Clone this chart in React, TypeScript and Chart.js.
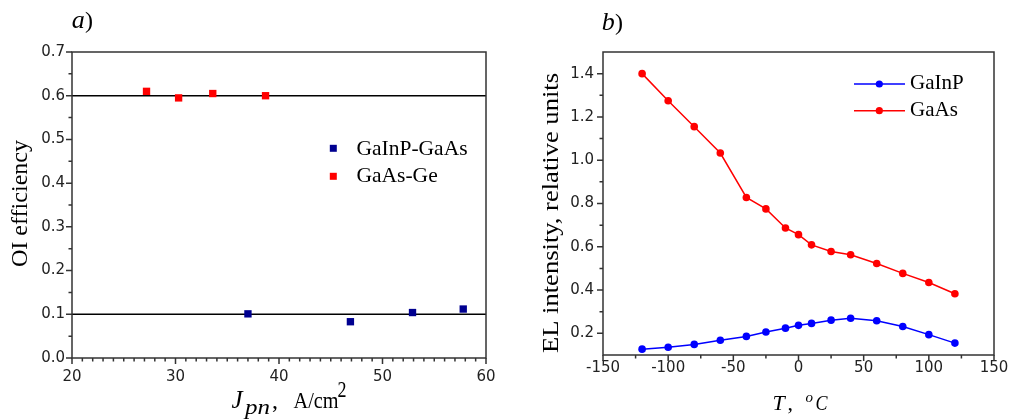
import React, { useEffect, useRef } from "react";
import { Chart, registerables } from "chart.js";

Chart.register(...registerables);

// ---------- Panel a) data ----------
const jpnGaInPGaAs = [37.0, 46.9, 52.9, 57.8];
const effGaInPGaAs = [0.101, 0.083, 0.104, 0.112];
const jpnGaAsGe = [27.2, 30.3, 33.6, 38.7];
const effGaAsGe = [0.61, 0.595, 0.605, 0.6];
const refLevels = [0.1, 0.6];
const leftXTicks = [20, 30, 40, 50, 60];
const leftYTicks = [0, 0.1, 0.2, 0.3, 0.4, 0.5, 0.6, 0.7];
const leftXMinor = [21, 22, 23, 24, 25, 26, 27, 28, 29, 31, 32, 33, 34, 35, 36, 37, 38, 39, 41, 42, 43, 44, 45, 46, 47, 48, 49, 51, 52, 53, 54, 55, 56, 57, 58, 59];
const leftYMinor = [0.05, 0.15, 0.25, 0.35, 0.45, 0.55, 0.65];
const leftLegend = ["GaInP-GaAs", "GaAs-Ge"];

// ---------- Panel b) data ----------
const temps = [-120, -100, -80, -60, -40, -25, -10, 0, 10, 25, 40, 60, 80, 100, 120];
const elGaInP = [0.127, 0.136, 0.149, 0.168, 0.186, 0.206, 0.224, 0.237, 0.246, 0.261, 0.27, 0.258, 0.232, 0.194, 0.155];
const elGaAs = [1.4, 1.275, 1.155, 1.033, 0.828, 0.775, 0.687, 0.656, 0.609, 0.578, 0.563, 0.523, 0.477, 0.435, 0.383];
const rightXTicks = [-150, -100, -50, 0, 50, 100, 150];
const rightYTicks = [0.2, 0.4, 0.6, 0.8, 1.0, 1.2, 1.4];
const rightXMinor = [-125, -75, -25, 25, 75, 125];
const rightYMinor = [0.3, 0.5, 0.7, 0.9, 1.1, 1.3];
const rightLegend = ["GaInP", "GaAs"];

const AXIS = "#333333";
const SERIF = "'Liberation Serif', 'Times New Roman', serif";
const SANS = "'DejaVu Sans', Verdana, sans-serif";
const NAVY = "#000090";
const RED = "#ff0000";
const BLUE = "#0000ff";

function run(ctx: CanvasRenderingContext2D, s: string, x: number, y: number, font: string, width?: number) {
  ctx.save();
  ctx.font = font;
  ctx.textAlign = "left";
  ctx.textBaseline = "alphabetic";
  ctx.fillStyle = "#000";
  ctx.translate(x, y);
  if (width) {
    const m = ctx.measureText(s).width;
    ctx.scale(width / m, 1);
  }
  ctx.fillText(s, 0, 0);
  ctx.restore();
}

function vtext(ctx: CanvasRenderingContext2D, s: string, bx: number, cy: number, font: string, len?: number) {
  ctx.save();
  ctx.font = font;
  ctx.textAlign = "center";
  ctx.textBaseline = "alphabetic";
  ctx.fillStyle = "#000";
  ctx.translate(bx, cy);
  ctx.rotate(-Math.PI / 2);
  if (len) {
    const m = ctx.measureText(s).width;
    ctx.scale(len / m, 1);
  }
  ctx.fillText(s, 0, 0);
  ctx.restore();
}

function drawFrame(chart: any, xMaj: number[], xMin: number[], yMaj: number[], yMin: number[]) {
  const { ctx, chartArea: a, scales } = chart;
  const x = scales.x;
  const y = scales.y;
  ctx.save();
  ctx.strokeStyle = AXIS;
  ctx.lineWidth = 1.5;
  ctx.beginPath();
  xMaj.forEach((v) => {
    const p = x.getPixelForValue(v);
    ctx.moveTo(p, a.bottom);
    ctx.lineTo(p, a.bottom + 6);
  });
  xMin.forEach((v) => {
    const p = x.getPixelForValue(v);
    ctx.moveTo(p, a.bottom);
    ctx.lineTo(p, a.bottom + 3.5);
  });
  yMaj.forEach((v) => {
    const p = y.getPixelForValue(v);
    ctx.moveTo(a.left, p);
    ctx.lineTo(a.left - 6, p);
  });
  yMin.forEach((v) => {
    const p = y.getPixelForValue(v);
    ctx.moveTo(a.left, p);
    ctx.lineTo(a.left - 3.5, p);
  });
  ctx.stroke();
  ctx.strokeRect(a.left, a.top, a.right - a.left, a.bottom - a.top);
  ctx.restore();
}

function fixedSize(size: number, horizontal: boolean) {
  return (scale: any) => {
    if (horizontal) scale.height = size;
    else scale.width = size;
    scale.paddingLeft = 0;
    scale.paddingRight = 0;
    scale.paddingTop = 0;
    scale.paddingBottom = 0;
  };
}

function setTicks(values: number[]) {
  return (scale: any) => {
    scale.ticks = values.map((v) => ({ value: v }));
  };
}

function LeftChart() {
  const ref = useRef<HTMLCanvasElement | null>(null);
  useEffect(() => {
    const canvas = ref.current!;
    const decor = {
      id: "decorA",
      afterDraw(chart: any) {
        const ctx = chart.ctx as CanvasRenderingContext2D;
        drawFrame(chart, leftXTicks, leftXMinor, leftYTicks, leftYMinor);
        // panel label
        run(ctx, "a", 71.7, 28.3, `italic 26px ${SERIF}`);
        run(ctx, ")", 85, 28.3, `24px ${SERIF}`);
        // y title
        vtext(ctx, "OI efficiency", 27, 203.5, `23px ${SERIF}`, 127);
        // x title
        run(ctx, "J", 231.5, 408, `italic 25px ${SERIF}`);
        run(ctx, "pn", 245, 414, `italic 22px ${SERIF}`, 25);
        run(ctx, ",", 272, 408, `24px ${SERIF}`);
        run(ctx, "A/cm", 293.5, 408, `24px ${SERIF}`, 45);
        run(ctx, "2", 337.5, 396.5, `23px ${SERIF}`, 9);
        // legend
        const cols = [NAVY, RED];
        leftLegend.forEach((name, i) => {
          const cy = [148.3, 176.3][i];
          ctx.save();
          ctx.fillStyle = cols[i];
          ctx.fillRect(333.3 - 3.5, cy - 3.5, 7, 7);
          ctx.restore();
          run(ctx, name, 356.5, [155.3, 182][i], `21.5px ${SERIF}`);
        });
      },
    };
    const chart = new Chart(canvas, {
      type: "scatter",
      data: {
        datasets: [
          {
            label: "ref1",
            type: "line",
            data: leftXTicks.filter((_, i) => i === 0 || i === leftXTicks.length - 1).map((x) => ({ x, y: refLevels[0] })),
            borderColor: "#000",
            borderWidth: 1.5,
            pointRadius: 0,
            order: 3,
          } as any,
          {
            label: "ref2",
            type: "line",
            data: leftXTicks.filter((_, i) => i === 0 || i === leftXTicks.length - 1).map((x) => ({ x, y: refLevels[1] })),
            borderColor: "#000",
            borderWidth: 1.5,
            pointRadius: 0,
            order: 3,
          } as any,
          {
            label: leftLegend[0],
            data: jpnGaInPGaAs.map((x, i) => ({ x, y: effGaInPGaAs[i] })),
            pointStyle: "rect",
            pointRadius: 5.2,
            backgroundColor: NAVY,
            borderWidth: 0,
            order: 1,
          },
          {
            label: leftLegend[1],
            data: jpnGaAsGe.map((x, i) => ({ x, y: effGaAsGe[i] })),
            pointStyle: "rect",
            pointRadius: 5.2,
            backgroundColor: RED,
            borderWidth: 0,
            order: 1,
          },
        ],
      },
      options: {
        animation: false,
        responsive: false,
        devicePixelRatio: 1,
        layout: { padding: { left: 0, right: 19, top: 52, bottom: 0 } },
        plugins: { legend: { display: false }, tooltip: { enabled: false } },
        scales: {
          x: {
            type: "linear",
            min: 20,
            max: 60,
            afterBuildTicks: setTicks(leftXTicks),
            afterFit: fixedSize(61, true),
            grid: { display: false, drawTicks: false },
            border: { display: false },
            ticks: { padding: 10, color: "#222", font: { family: SANS, size: 15 }, callback: (v: any) => String(v) },
          },
          y: {
            type: "linear",
            min: 0,
            max: 0.7,
            afterBuildTicks: setTicks(leftYTicks),
            afterFit: fixedSize(72, false),
            grid: { display: false, drawTicks: false },
            border: { display: false },
            ticks: { padding: 7, color: "#222", font: { family: SANS, size: 15 }, callback: (v: any) => Number(v).toFixed(1) },
          },
        },
      },
      plugins: [decor],
    } as any);
    return () => chart.destroy();
  }, []);
  return <canvas ref={ref} width={505} height={419} style={{ display: "block" }} />;
}

function RightChart() {
  const ref = useRef<HTMLCanvasElement | null>(null);
  useEffect(() => {
    const canvas = ref.current!;
    const OX = 505;
    const decor = {
      id: "decorB",
      afterDraw(chart: any) {
        const ctx = chart.ctx as CanvasRenderingContext2D;
        drawFrame(chart, rightXTicks, rightXMinor, rightYTicks, rightYMinor);
        run(ctx, "b", 601.7 - OX, 30, `italic 26px ${SERIF}`);
        run(ctx, ")", 615 - OX, 30, `24px ${SERIF}`);
        vtext(ctx, "EL intensity, relative units", 558 - OX, 213, `23px ${SERIF}`, 280);
        run(ctx, "T", 772.5 - OX, 410, `italic 22px ${SERIF}`);
        run(ctx, ",", 787.5 - OX, 410, `22px ${SERIF}`);
        run(ctx, "o", 805.5 - OX, 401.5, `italic 15px ${SERIF}`);
        run(ctx, "C", 815.5 - OX, 410, `italic 21px ${SERIF}`, 12);
        const cols = [BLUE, RED];
        rightLegend.forEach((name, i) => {
          const cy = [84, 110.7][i];
          ctx.save();
          ctx.strokeStyle = cols[i];
          ctx.fillStyle = cols[i];
          ctx.lineWidth = 1.5;
          ctx.beginPath();
          ctx.moveTo(854 - OX, cy);
          ctx.lineTo(905 - OX, cy);
          ctx.stroke();
          ctx.beginPath();
          ctx.arc(879.3 - OX, cy, 3.6, 0, Math.PI * 2);
          ctx.fill();
          ctx.restore();
          run(ctx, name, 910 - OX, cy + 5, `21px ${SERIF}`);
        });
      },
    };
    const chart = new Chart(canvas, {
      type: "line",
      data: {
        datasets: [
          {
            label: rightLegend[0],
            data: temps.map((x, i) => ({ x, y: elGaInP[i] })),
            borderColor: BLUE,
            backgroundColor: BLUE,
            borderWidth: 1.5,
            pointRadius: 3.8,
            pointBorderWidth: 0,
            tension: 0,
          },
          {
            label: rightLegend[1],
            data: temps.map((x, i) => ({ x, y: elGaAs[i] })),
            borderColor: RED,
            backgroundColor: RED,
            borderWidth: 1.5,
            pointRadius: 3.8,
            pointBorderWidth: 0,
            tension: 0,
          },
        ],
      },
      options: {
        animation: false,
        responsive: false,
        devicePixelRatio: 1,
        layout: { padding: { left: 0, right: 15, top: 52, bottom: 0 } },
        plugins: { legend: { display: false }, tooltip: { enabled: false } },
        scales: {
          x: {
            type: "linear",
            min: -150,
            max: 150,
            afterBuildTicks: setTicks(rightXTicks),
            afterFit: fixedSize(64, true),
            grid: { display: false, drawTicks: false },
            border: { display: false },
            ticks: { padding: 4.5, color: "#222", font: { family: SANS, size: 15 }, callback: (v: any) => String(v) },
          },
          y: {
            type: "linear",
            min: 0.1,
            max: 1.5,
            afterBuildTicks: setTicks(rightYTicks),
            afterFit: fixedSize(98, false),
            grid: { display: false, drawTicks: false },
            border: { display: false },
            ticks: { padding: 9, color: "#222", font: { family: SANS, size: 15 }, callback: (v: any) => Number(v).toFixed(1) },
          },
        },
      },
      plugins: [decor],
    } as any);
    return () => chart.destroy();
  }, []);
  return <canvas ref={ref} width={504} height={419} style={{ display: "block" }} />;
}

export default function App() {
  return (
    <div style={{ position: "fixed", left: 0, top: 0, width: 1009, height: 419, background: "#fff", overflow: "hidden" }}>
      <div style={{ position: "absolute", left: 0, top: 0, width: 505, height: 419 }}>
        <LeftChart />
      </div>
      <div style={{ position: "absolute", left: 505, top: 0, width: 504, height: 419 }}>
        <RightChart />
      </div>
    </div>
  );
}
